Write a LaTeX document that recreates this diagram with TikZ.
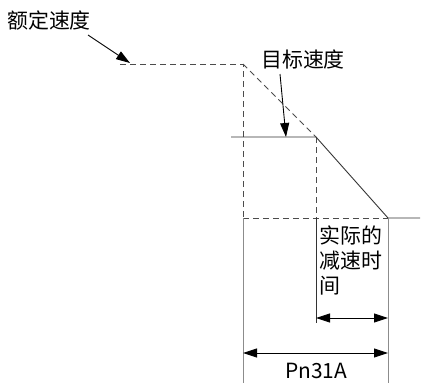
\documentclass[tikz,border=0pt]{standalone}
\usepackage{fontspec}
\setmainfont{Noto Sans CJK SC}
\usetikzlibrary{arrows.meta}
\begin{document}
\begin{tikzpicture}[x=1bp,y=-1bp,
  dash line/.style={draw=black!70,line width=0.8bp,dash pattern=on 6bp off 4bp},
  solid line/.style={draw=black!80,line width=0.9bp},
  gray line/.style={draw=black!45,line width=0.9bp},
  pointer/.style={draw=black,line width=0.9bp,-{Triangle[length=14bp,width=9bp]}},
  dim/.style={draw=black,line width=0.9bp,{Triangle[length=14bp,width=9bp]}-{Triangle[length=14bp,width=9bp]}},
  lbl/.style={font=\fontsize{21}{25}\selectfont,inner sep=0pt}]
\useasboundingbox (0,0) rectangle (421,383);
% key points
\coordinate (r0) at (120,64);
\coordinate (r1) at (243,64);
\coordinate (t0) at (231,137);
\coordinate (t1) at (316,137);
\coordinate (z0) at (243,218);
\coordinate (z1) at (316,218);
\coordinate (z2) at (388,218);
\coordinate (z3) at (420,218);
\coordinate (b0) at (243,383);
\coordinate (b1) at (316,323);
\coordinate (b2) at (388,383);
\coordinate (a1) at (316,318);
\coordinate (a2) at (388,318);
\coordinate (c0) at (243,353);
\coordinate (c2) at (388,353);
% dashed lines
\draw[dash line] (r0) -- (r1) -- (z0);
\draw[dash line] (r1) -- (t1);
\draw[dash line] (t1) -- (z1);
\draw[dash line] (z0) -- (z2);
% solid curve
\draw[solid line] (t0) -- (t1) -- (z2) -- (z3);
% verticals
\draw[gray line] (z0) -- (b0);
\draw[gray line] (z2) -- (b2);
\draw[solid line] (z1) -- (b1);
% dimension arrows
\draw[dim] (a1) -- (a2);
\draw[dim] (c0) -- (c2);
% labels
\node[lbl,anchor=west] (rated) at (7,21) {额定速度};
\node[lbl,anchor=west] (target) at (261,59) {目标速度};
\node[lbl,anchor=north west,align=left] (actual) at (319,226) {实际的\\减速时\\间};
\node[lbl] (pn) at (316,371) {Pn31A};
\coordinate (p1) at (88,35);
\coordinate (p2) at (130,63);
\coordinate (q1) at (280,74);
\coordinate (q2) at (286,137);
\draw[pointer] (p1) -- (p2);
\draw[pointer] (q1) -- (q2);
\end{tikzpicture}
\end{document}
